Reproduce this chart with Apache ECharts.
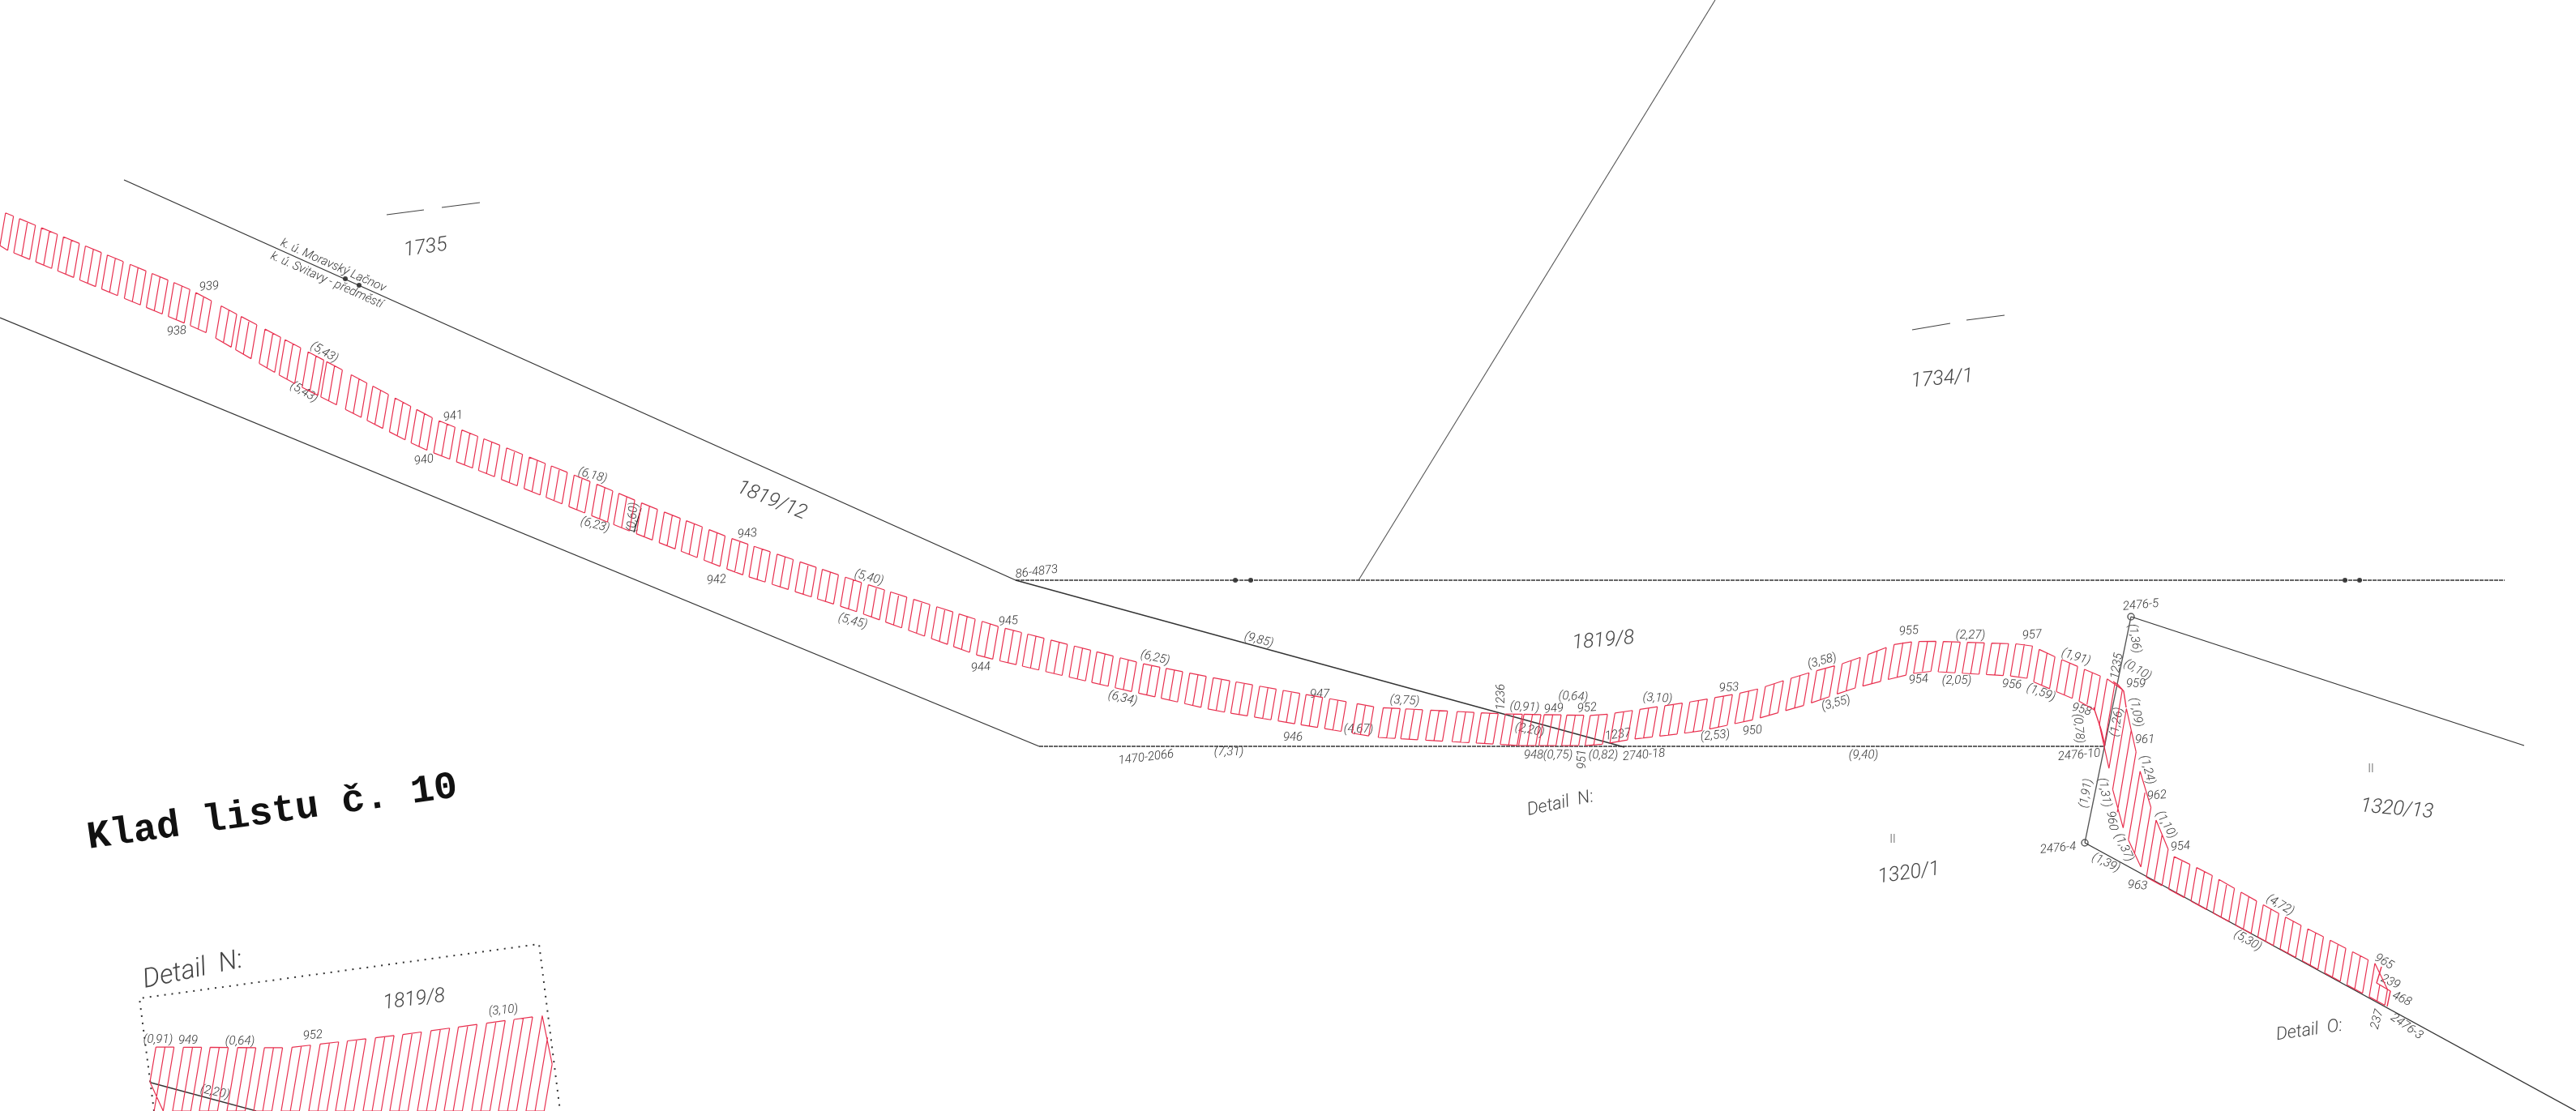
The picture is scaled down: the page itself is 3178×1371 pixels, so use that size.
<!DOCTYPE html>
<html><head><meta charset="utf-8"><style>html,body{margin:0;background:#fff}#c{width:3178px;height:1371px}</style>
<script src="https://cdn.jsdelivr.net/npm/echarts@6/dist/echarts.min.js"></script></head><body><div id="c"></div>
<script>
// parcel boundaries
const boundaryA=[[153,222],[1253,716],[2004,922]];
const boundaryB=[[1253,716],[3090,716]];
const boundaryC=[[1676,716],[2116,0]];
const boundaryD=[[0,392],[1282,921]];
const boundaryD2=[[1282,921],[2597,921]];
const boundaryE=[[2629,761],[3114,920]];
const boundaryF=[[2629,761],[2572,1040]];
const boundaryG=[[2572,1040],[3178,1371]];
const ticks1=[[477,265],[523,259]], ticks2=[[545,256],[592,250]], ticks3=[[2359,407],[2406,399]], ticks4=[[2426,395],[2473,389]];
const noteLine=[[791,627],[782,657]];
const blackDots=[[426,344],[443,352],[1524,716],[1543,716],[2893,716],[2911,716]];
const rings=[[2629,761],[2572,1040]];
const frame=[[190,1371],[172,1232],[665,1165],[691,1371]];
const insetLine=[[186,1336],[316,1371]];
// occupied strip edges
const topEdge=[[0,259],[5,262],[230,355],[378,433],[536,517],[735,597],[802,625],[909,667],[1057,717],[1231,773],[1414,820],[1500,837],[1700,873],[1856,881],[1972,883],[2093,865],[2160,853],[2222,833],[2280,817],[2343,793],[2379,791],[2438,793],[2503,795],[2527,807],[2607,841]];
const lowerEdge=[[0,305],[250,408],[357,470],[520,553],[607,587],[714,630],[796,663],[909,707],[1052,753],[1210,810],[1368,847],[1500,877],[1700,910],[1874,920],[1968,920],[2008,913],[2093,903],[2164,888],[2227,870],[2285,850],[2343,835],[2374,828],[2442,832],[2497,835],[2510,842],[2583,873],[2592,900],[2597,920],[2605,967],[2613,1007],[2633,1053],[2647,1082]];
const rightEdge=[[2613,845],[2620,853],[2623,873],[2633,917],[2645,975],[2670,1037],[2678,1055],[2725,1078],[2777,1108],[2829,1137],[2884,1165],[2938,1193],[2932,1213],[2949,1223],[2945,1242]];
const cornerA=[[2607,841],[2613,845],[2620,853],[2623,873]];
const cornerB=[[2938,1193],[2932,1213],[2949,1223],[2945,1242]];
const cornerC=[[2583,873],[2592,900],[2597,920]];
const insetEdge=[[179,1292],[355,1293],[494,1277],[671,1253]];
const insetClose=[[691,1371],[190,1371]];
// hatch groups: where each group of three strokes starts along the strip
const stripGroups=[41,70,99,128,157,186,216,245,274,303,337,364,396,423,454,479,512,541,571,600,630,660,689,719,749,778,808,838,867,897,927,956,986,1016,1045,1075,1105,1134,1164,1194,1223,1253,1283,1312,1342,1372,1401,1431,1461,1490,1520,1550,1579,1609,1639,1668,1698,1728,1757,1787,1822,1855,1883,1914,1947,1977,2007,2030,2055,2083,2112,2142,2172,2202,2232,2262,2292,2322,2352,2382,2412,2442,2472,2502,2532,2562,2592,2622,2652,2682,2712,2742,2772,2802,2832,2862,2892,2922,2952,2982,3012,3042,3072,3102,3132];
const insetGroups=[412,446,479,513,546,580,614,647,681,714,748,781,815,848,882];
// text
const numText=['939','938','(5,43)','(5,43)','941','940','(6,18)','(6,23)','(0,60)','943','942','(5,40)','(5,45)','945','944','(6,25)','(6,34)','86-4873','1470-2066','(9,85)','(7,31)','(4,67)','947','946','(3,75)','1236','(0,91)','949','(0,64)','952','(2,20)','1237','(3,10)','953','950','(2,53)','(3,58)','(3,55)','955','954','948','(0,75)','951','(0,82)','2740-18','(9,40)','(2,27)','957','(2,05)','956','(1,59)','(1,91)','958','(0,78)','1235','(1,36)','(0,10)','959','(1,09)','(1,26)','961','(1,24)','962','(1,10)','2476-5','2476-10','(1,91)','(1,31)','960','(1,37)','2476-4','(1,39)','963','954','(4,72)','(5,30)','965','239','468','237','2476-3','k. ú. Moravský Lačnov','k. ú. Svitavy - předměstí','(3,10)','952','(0,64)','949','(0,91)','(2,20)'];
const numX=[258,218,400,375,559,523,731,734,781,922,884,1072,1052,1244,1210,1425,1385,1279,1414,1553,1516,1676,1628,1595,1733,1852,1881,1917,1941,1958,1887,1996,2045,2133,2162,2116,2248,2265,2355,2367,1892,1922,1952,1978,2028,2299,2431,2507,2414,2482,2518,2561,2568,2564,2612,2633,2637,2635,2635,2612,2646,2649,2661,2672,2641,2565,2574,2596,2605,2620,2539,2598,2637,2690,2813,2773,2941,2949,2963,2933,2969,411,403,621,386,296,232,195,265];
const numY=[354,409,435,484,514,568,587,648,638,659,716,713,767,767,824,812,862,706,935,790,928,900,857,910,865,860,873,875,860,874,901,907,862,849,902,908,816,868,779,839,932,932,937,932,932,932,784,784,840,845,855,811,876,899,822,788,827,844,879,891,913,950,982,1018,747,932,979,978,1013,1046,1047,1065,1093,1045,1117,1161,1187,1212,1233,1258,1267,328,346,1247,1278,1285,1284,1283,1348];
const numRot=[5,5,-30,-30,8,8,-15,-15,85,5,5,-15,-15,5,5,-13,-13,7,7,-15,0,0,0,0,-3,90,-3,5,-3,5,-12,8,-3,3,5,5,15,15,5,5,0,0,90,0,5,0,0,5,0,-5,-20,-18,-15,-85,80,-80,-30,0,-80,80,0,-75,5,-60,5,5,80,-80,-80,-65,5,-25,-5,5,-30,-30,-30,-25,-25,75,-35,-24,-24,5,5,0,0,0,-12];
const bigText=['1735','1819/12','1819/8','1320/1','1320/13','1734/1','1819/8','Detail  N:','Detail  O:','Detail  N:'];
const bigX=[525,952,1978,2355,2957,2396,511,1925,2849,238];
const bigY=[306,618,791,1078,999,468,1234,992,1272,1198];
const bigRot=[8,-22,5,8,-5,5,7,12,8,12];
const bigSize=[25,25,25,25,25,25,25,22,22,33];
const romanText=['II','II'];
const romanX=[2335,2925];
const romanY=[1036,949];
const titleText=['Klad listu č. 10'];
const titleX=[336];
const titleY=[1003];
const titleRot=[8];

const LEAN=0.17, STEP=10.5;
function crossings(poly,c){const out=[];for(let i=0;i<poly.length;i++){const a=poly[i],b=poly[(i+1)%poly.length];const fa=a[0]+LEAN*a[1]-c,fb=b[0]+LEAN*b[1]-c;if((fa<0)!==(fb<0)){const t=fa/(fa-fb);out.push([a[0]+t*(b[0]-a[0]),a[1]+t*(b[1]-a[1])]);}}return out.sort((p,q)=>p[1]-q[1]);}
function hatch(poly,groups,step){const d=[];const br=()=>d.push([null,null]);
 groups.forEach(g=>{const ends=[];for(let n=0;n<3;n++){const x=crossings(poly,g+n*step);for(let j=0;j+1<x.length;j+=2){d.push(x[j],x[j+1]);br();}if(x.length>1)ends.push([x[0],x[x.length-1]]);}
  if(ends.length>1){const f=ends[0],l=ends[ends.length-1];d.push(f[0],l[0]);br();d.push(f[1],l[1]);br();}});return d;}
const stripPoly=topEdge.concat(rightEdge,lowerEdge.slice().reverse());
const insetPoly=insetEdge.concat(insetClose);

const lineS=(d,c,w,t)=>({type:'line',data:d,symbol:'none',silent:true,animation:false,connectNulls:false,lineStyle:{color:c,width:w,type:t||'solid'}});
const textS=(texts,xs,ys,rots,sizes,style,weight,family,color)=>({type:'custom',silent:true,animation:false,coordinateSystem:'cartesian2d',clip:false,
 data:texts.map((t,i)=>[xs[i],ys[i]]),
 renderItem:(p,api)=>{const i=p.dataIndex,c=api.coord([xs[i],ys[i]]);
  return {type:'text',x:c[0],y:c[1],rotation:(rots?rots[i]:0)*Math.PI/180,style:{text:texts[i],align:'center',verticalAlign:'middle',fill:color,fontStyle:style,fontWeight:weight,fontFamily:family,fontSize:typeof sizes==='number'?sizes:sizes[i]}};}});
const INK='#333';
const RED='#e8304f';
const chart=echarts.init(document.getElementById('c'));
chart.setOption({animation:false,backgroundColor:'#fff',
 grid:{left:0,right:0,top:0,bottom:0},
 xAxis:{type:'value',min:0,max:3178,show:false},
 yAxis:{type:'value',min:0,max:1371,inverse:true,show:false},
 series:[
  lineS(boundaryA,INK,1.3),lineS(boundaryB,INK,1.4,[5,1]),lineS(boundaryC,'#555',1.1),lineS(boundaryD,INK,1.3),lineS(boundaryD2,INK,1.4,[5,1]),lineS(boundaryE,INK,1.3),lineS(boundaryF,'#555',1.3),lineS(boundaryG,INK,1.3),
  lineS(ticks1,'#444',1.2),lineS(ticks2,'#444',1.2),lineS(ticks3,'#444',1.2),lineS(ticks4,'#444',1.2),lineS(noteLine,'#222',1.2),
  lineS(frame,'#333',2,[2,7]),lineS(insetLine,INK,1.3),
  lineS(hatch(stripPoly,stripGroups,STEP),RED,1.2),lineS(hatch(insetPoly,insetGroups,11.2),RED,1.2),
  lineS(cornerA,RED,1.4),lineS(cornerB,RED,1.4),lineS(cornerC,RED,1.4),
  {type:'scatter',data:blackDots,symbolSize:6,silent:true,itemStyle:{color:'#111'}},
  {type:'scatter',data:rings,symbolSize:8,symbol:'circle',silent:true,itemStyle:{color:'#fff',borderColor:'#333',borderWidth:1.5}},
  textS(numText,numX,numY,numRot,15,'italic',300,'Roboto',INK),
  textS(bigText,bigX,bigY,bigRot,bigSize,'italic',300,'Roboto','#444'),
  textS(romanText,romanX,romanY,null,14,'normal',300,'Roboto','#555'),
  textS(titleText,titleX,titleY,titleRot,48,'normal','bold','Liberation Mono','#111')
 ]});
</script></body></html>
